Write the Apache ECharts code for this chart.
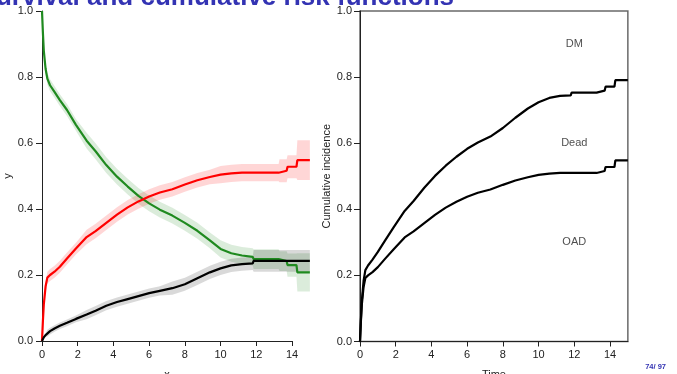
<!DOCTYPE html>
<html>
<head>
<meta charset="utf-8">
<script src="https://cdn.jsdelivr.net/npm/echarts@6/dist/echarts.min.js"></script>
<style>
  html, body { margin: 0; padding: 0; background: #fff; }
  #chart { width: 677px; height: 374px; }
</style>
</head>
<body>
<div id="chart"></div>
<script>
// Follow-up time (years) shared by all three state curves
const time = [0, 0.05, 0.1, 0.2, 0.3, 0.45, 0.7, 1.0, 1.4, 1.9, 2.5, 3.0, 3.6, 4.2, 4.8, 5.4, 6.0, 6.6, 7.3, 8.0,
              8.7, 9.4, 10.0, 10.6, 11.2, 11.8, 11.85, 13.25, 13.3, 13.7, 13.75, 14.25, 14.3, 15.0];
// Cumulative incidence of OAD (red)
const oad = [0, 0.06, 0.11, 0.165, 0.192, 0.2, 0.21, 0.225, 0.25, 0.28, 0.315, 0.333, 0.358, 0.383, 0.405, 0.423, 0.438, 0.45, 0.46, 0.474,
             0.487, 0.497, 0.504, 0.508, 0.51, 0.51, 0.51, 0.51, 0.516, 0.516, 0.528, 0.528, 0.548, 0.548];
// Cumulative incidence of death (black)
const dead = [0, 0.006, 0.011, 0.018, 0.024, 0.03, 0.038, 0.046, 0.055, 0.067, 0.08, 0.092, 0.107, 0.118, 0.127, 0.136, 0.145, 0.152, 0.16, 0.172,
              0.19, 0.208, 0.22, 0.229, 0.233, 0.235, 0.243, 0.243, 0.243, 0.243, 0.243, 0.243, 0.243, 0.243];
// Probability of remaining in DM (green)
const dm = [1.0, 0.935, 0.88, 0.825, 0.795, 0.775, 0.755, 0.73, 0.70, 0.655, 0.607, 0.575, 0.533, 0.498, 0.468, 0.44, 0.417, 0.398, 0.38, 0.358,
            0.334, 0.305, 0.279, 0.266, 0.259, 0.255, 0.248, 0.248, 0.242, 0.242, 0.23, 0.23, 0.208, 0.208];
// Half-widths of the pointwise confidence bands
const oadHalf = [0, 0.01, 0.012, 0.015, 0.018, 0.018, 0.018, 0.018, 0.018, 0.018, 0.022, 0.022, 0.022, 0.022, 0.022, 0.022, 0.022, 0.022, 0.022, 0.022,
                 0.022, 0.022, 0.026, 0.026, 0.026, 0.026, 0.026, 0.026, 0.035, 0.035, 0.035, 0.035, 0.06, 0.06];
const deadHalf = [0, 0.005, 0.005, 0.005, 0.01, 0.01, 0.01, 0.01, 0.01, 0.01, 0.014, 0.014, 0.014, 0.014, 0.014, 0.014, 0.014, 0.014, 0.02, 0.02,
                  0.02, 0.02, 0.02, 0.02, 0.02, 0.02, 0.033, 0.033, 0.033, 0.033, 0.033, 0.033, 0.033, 0.033];
const dmHalf = [0, 0.01, 0.012, 0.015, 0.018, 0.018, 0.018, 0.018, 0.018, 0.018, 0.024, 0.024, 0.024, 0.024, 0.024, 0.024, 0.024, 0.024, 0.024, 0.024,
                0.024, 0.024, 0.026, 0.026, 0.026, 0.026, 0.03, 0.03, 0.03, 0.03, 0.035, 0.035, 0.058, 0.058];

const xTicks = [0, 2, 4, 6, 8, 10, 12, 14];
const yTicks = [0, 0.2, 0.4, 0.6, 0.8, 1.0];
// State names placed inside the stacked panel: [name, time, probability]
const stateLabels = [['DM', 12, 0.9], ['Dead', 12, 0.6], ['OAD', 12, 0.3]];

const FONT = 'Liberation Sans, Arial, sans-serif';
const INK = '#222';
const RED = '#ff0000', GREEN = '#1f8a1f', BLACK = '#000000';

// Rows are [probability, time]; encode maps them so stacking acts on the probability
const rows = vals => time.map((t, i) => [vals[i], t]);

// Shaded confidence band as a polygon through the axis scales
function band(vals, half, fill) {
  return {
    type: 'custom', xAxisIndex: 1, yAxisIndex: 1, silent: true, z: 1,
    data: [[0, 0]],
    renderItem: (params, api) => {
      const upper = time.map((t, i) => api.coord([t, vals[i] + half[i]]));
      const lower = time.map((t, i) => api.coord([t, vals[i] - half[i]])).reverse();
      return { type: 'polygon', shape: { points: upper.concat(lower) }, style: { fill } };
    }
  };
}

function line(vals, color, xi, yi, extra) {
  return Object.assign({
    type: 'line', xAxisIndex: xi, yAxisIndex: yi, data: rows(vals),
    encode: { x: 1, y: 0 },
    showSymbol: false, symbol: 'none', silent: true, z: 3,
    lineStyle: { color, width: 2.2 }
  }, extra || {});
}

const tickLabel = { fontFamily: FONT, fontSize: 11, color: INK };
const axisName = { fontFamily: FONT, fontSize: 11, color: INK };

const option = {
  animation: false,
  backgroundColor: '#fff',
  grid: [
    { left: 42, top: 11, width: 250, height: 330, outerBoundsMode: 'none' },     // left panel axes (0..14)
    { left: 42, top: 11, width: 267.86, height: 330, outerBoundsMode: 'none' },  // left panel data (0..15)
    { left: 360, top: 11, width: 267.86, height: 330.5, outerBoundsMode: 'none', show: true,
      borderColor: '#6a6a6a', borderWidth: 1.5, backgroundColor: 'transparent' }
  ],
  xAxis: [
    { gridIndex: 0, type: 'value', min: 0, max: 14, interval: 2,
      name: 'x', nameLocation: 'middle', nameGap: 28, nameTextStyle: axisName,
      axisLine: { lineStyle: { color: INK, width: 1 } },
      axisTick: { length: 5, lineStyle: { color: INK } },
      axisLabel: Object.assign({ margin: 8, customValues: xTicks }, tickLabel),
      splitLine: { show: false } },
    { gridIndex: 1, type: 'value', min: 0, max: 15, show: false, splitLine: { show: false } },
    { gridIndex: 2, type: 'value', min: 0, max: 15, interval: 2,
      name: 'Time', nameLocation: 'middle', nameGap: 28, nameTextStyle: axisName,
      axisLine: { lineStyle: { color: INK, width: 1 } },
      axisTick: { length: 5, customValues: xTicks, lineStyle: { color: INK } },
      axisLabel: Object.assign({ margin: 8, customValues: xTicks }, tickLabel),
      splitLine: { show: false } }
  ],
  yAxis: [
    { gridIndex: 0, type: 'value', min: 0, max: 1, interval: 0.2,
      name: 'y', nameLocation: 'middle', nameGap: 24, nameTextStyle: axisName,
      axisLine: { show: true, lineStyle: { color: INK, width: 1 } },
      axisTick: { show: true, length: 6, lineStyle: { color: INK } },
      axisLabel: Object.assign({ margin: 9, customValues: yTicks, formatter: v => v.toFixed(1) }, tickLabel),
      splitLine: { show: false } },
    { gridIndex: 1, type: 'value', min: 0, max: 1, show: false, splitLine: { show: false } },
    { gridIndex: 2, type: 'value', min: 0, max: 1, interval: 0.2,
      name: 'Cumulative incidence', nameLocation: 'middle', nameGap: 25, nameTextStyle: axisName,
      axisLine: { show: true, lineStyle: { color: INK, width: 1 } },
      axisTick: { show: true, length: 6, lineStyle: { color: INK } },
      axisLabel: Object.assign({ margin: 8, customValues: yTicks, formatter: v => v.toFixed(1) }, tickLabel),
      splitLine: { show: false } }
  ],
  series: [
    band(dm, dmHalf, 'rgba(31,138,31,0.16)'),
    band(oad, oadHalf, 'rgba(255,0,0,0.16)'),
    band(dead, deadHalf, 'rgba(0,0,0,0.15)'),
    line(dm, GREEN, 1, 1),
    line(oad, RED, 1, 1),
    line(dead, BLACK, 1, 1),
    // Stacked cumulative incidence: OAD, then OAD + death
    line(oad, BLACK, 2, 2, { name: 'OAD', stack: 'cif' }),
    line(dead, BLACK, 2, 2, { name: 'Dead', stack: 'cif' }),
    {
      type: 'scatter', xAxisIndex: 2, yAxisIndex: 2, silent: true,
      symbolSize: 1, itemStyle: { color: 'rgba(0,0,0,0)' },
      data: stateLabels.map(d => [d[1], d[2], d[0]]),
      label: { show: true, position: 'inside', formatter: p => p.value[2],
               fontFamily: FONT, fontSize: 11, color: INK }
    }
  ],
  graphic: [
    { type: 'text', style: {
        x: 454, y: 11, text: 'Survival and cumulative risk functions',
        textAlign: 'right', textVerticalAlign: 'bottom',
        font: 'bold 26px Liberation Sans, Arial, sans-serif', fill: '#3333b3' } },
    { type: 'text', style: {
        x: 666, y: 367, text: '74/ 97', textAlign: 'right', textVerticalAlign: 'middle',
        font: 'bold 7.5px Liberation Sans, Arial, sans-serif', fill: '#3333b3' } }
  ]
};

echarts.init(document.getElementById('chart'), null, { renderer: 'canvas' }).setOption(option);
</script>
</body>
</html>
